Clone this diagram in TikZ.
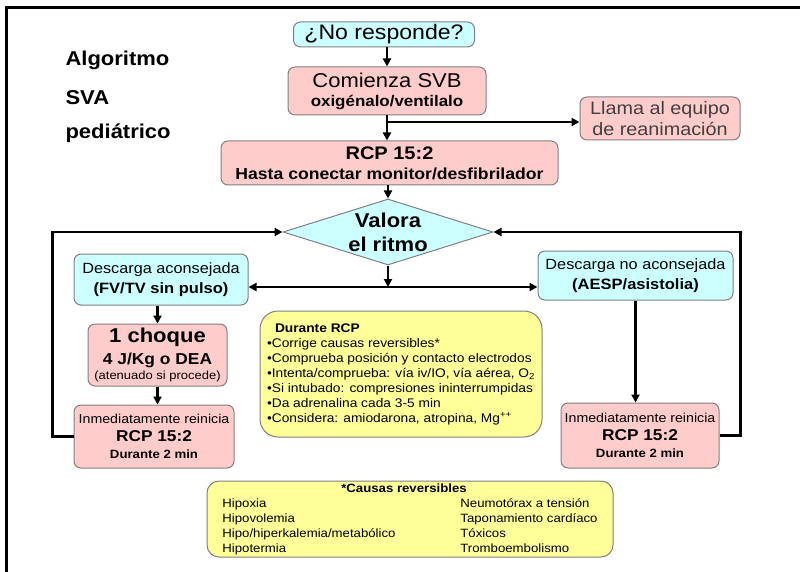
\documentclass[tikz,border=0pt]{standalone}
\usepackage{fontspec}
\setmainfont[FakeStretch=1.1]{Liberation Sans}
\usetikzlibrary{shapes.geometric,arrows.meta}
\definecolor{cy}{HTML}{CCFFFF}
\definecolor{pk}{HTML}{FFCCCC}
\definecolor{yl}{HTML}{FFFF99}
\definecolor{bd}{HTML}{808080}
\definecolor{txtgray}{HTML}{404040}
\newcommand{\fsz}[2]{\fontsize{#1}{#2}\selectfont}
\begin{document}
\begin{tikzpicture}[x=1pt,y=-1pt,
  box/.style={draw=bd, line width=1pt, rounded corners=7pt, align=center, inner sep=0pt, text=black},
  cbox/.style={box, fill=cy},
  pbox/.style={box, fill=pk},
  ybox/.style={draw=bd, line width=1pt, fill=yl, inner sep=0pt, text=black},
  title/.style={anchor=west, font=\bfseries\fsz{20}{24}},
  arr/.style={line width=2.4pt, -{Triangle[length=8pt,width=8pt]}},
  ]
\useasboundingbox (0,0) rectangle (800,572);
\draw[line width=3pt] (6,572) -- (6,8) -- (800,8);

\node[title] (t1) at (62,60) {Algoritmo};
\node[title] (t2) at (62,98) {SVA};
\node[title] (t3) at (62,133) {pediátrico};

\node[cbox, minimum width=181, minimum height=25, font=\fsz{21}{24}] (nores) at (384,34.5) {¿No responde?};
\node[pbox, minimum width=198, minimum height=48, font=\bfseries\fsz{15.4}{19}] (svb) at (387,91)
  {{\mdseries\fsz{20}{22}Comienza SVB}\\oxigénalo/ventilalo};
\node[pbox, minimum width=160, minimum height=43, font=\fsz{18}{21}, text=txtgray] (llama) at (660,118.5)
  {Llama al equipo\\de reanimación};
\node[pbox, minimum width=337, minimum height=44, font=\bfseries\fsz{16}{20}] (rcp) at (389.5,163)
  {{\fsz{18.2}{21}RCP 15:2}\\Hasta conectar monitor/desfibrilador};
\node[draw=bd, line width=1pt, fill=cy, diamond, minimum width=210, minimum height=66, inner sep=0pt] (valora) at (388,232) {};
\node[font=\bfseries\fsz{20}{24}, align=center, inner sep=0pt] (valoratxt) at (valora.center) {Valora\\el ritmo};

\node[cbox, minimum width=174, minimum height=51, font=\fsz{14.8}{20}] (desA) at (161,279.5)
  {Descarga aconsejada\\{\bfseries\fsz{15}{20}(FV/TV sin pulso)}};
\node[cbox, minimum width=195, minimum height=49, font=\fsz{14.8}{20}] (desN) at (635.5,275.5)
  {Descarga no aconsejada\\{\bfseries\fsz{15}{20}(AESP/asistolia)}};

\node[pbox, minimum width=139, minimum height=62, font=\fsz{11.8}{15}] (choque) at (157.5,355)
  {{\bfseries\fsz{20}{22}1 choque}\\[5pt]{\bfseries\fsz{15.8}{18}4 J/Kg o DEA}\\(atenuado si procede)};
\node[pbox, minimum width=160, minimum height=63, font=\fsz{12.9}{17.5}] (inmL) at (154,436.5)
  {Inmediatamente reinicia\\{\bfseries\fsz{15.7}{17}RCP 15:2}\\{\bfseries\fsz{12}{14}Durante 2 min}};
\node[pbox, minimum width=158, minimum height=65, font=\fsz{12.9}{17.5}] (inmR) at (640,435.5)
  {Inmediatamente reinicia\\{\bfseries\fsz{15.7}{17}RCP 15:2}\\{\bfseries\fsz{12}{14}Durante 2 min}};

\node[ybox, rounded corners=18pt, minimum width=282, minimum height=126, align=left, font=\fsz{12.5}{15}] (durante) at (401,374)
  {\hspace*{8pt}{\bfseries Durante RCP}\\
   •Corrige causas reversibles*\\
   •Comprueba posición y contacto electrodos\\
   •Intenta/comprueba: vía iv/IO, vía aérea, O\textsubscript{2}\\
   •Si intubado: compresiones ininterrumpidas\\
   •Da adrenalina cada 3-5 min\\
   •Considera: amiodarona, atropina, Mg\textsuperscript{++}};

\node[ybox, rounded corners=12pt, minimum width=406, minimum height=76, font=\fsz{12}{15}] (causas) at (410,519)
  {\begin{tabular}{@{}p{238pt}@{}l@{}}
   \multicolumn{2}{c}{\bfseries *Causas reversibles\hspace*{12pt}}\\
   Hipoxia & Neumotórax a tensión\\
   Hipovolemia & Taponamiento cardíaco\\
   Hipo/hiperkalemia/metabólico & Tóxicos\\
   Hipotermia & Tromboembolismo
   \end{tabular}};

\coordinate (j1) at (387,122);
\coordinate (j2) at (388,287);
\draw[arr] (nores.south -| svb.north) -- (svb.north);
\draw[arr] (svb.south) -- (svb.south |- rcp.north);
\draw[arr] (j1) -- (j1 -| llama.west);
\draw[arr] (rcp.south -| valora.north) -- (valora.north);
\draw[arr] (valora.south) -- (j2);
\draw[arr] (j2) -- (j2 -| desA.east);
\draw[arr] (j2) -- (j2 -| desN.west);
\draw[arr] (desA.south -| choque.north) -- (choque.north);
\draw[arr] (choque.south) -- (choque.south |- inmL.north);
\draw[arr] (desN.south) -- (desN.south |- inmR.north);
\draw[arr] (inmL.west) -- ++(-21,0) |- (valora.west);
\draw[arr] (inmR.east) -- ++(21,0) |- (valora.east);
\end{tikzpicture}
\end{document}
